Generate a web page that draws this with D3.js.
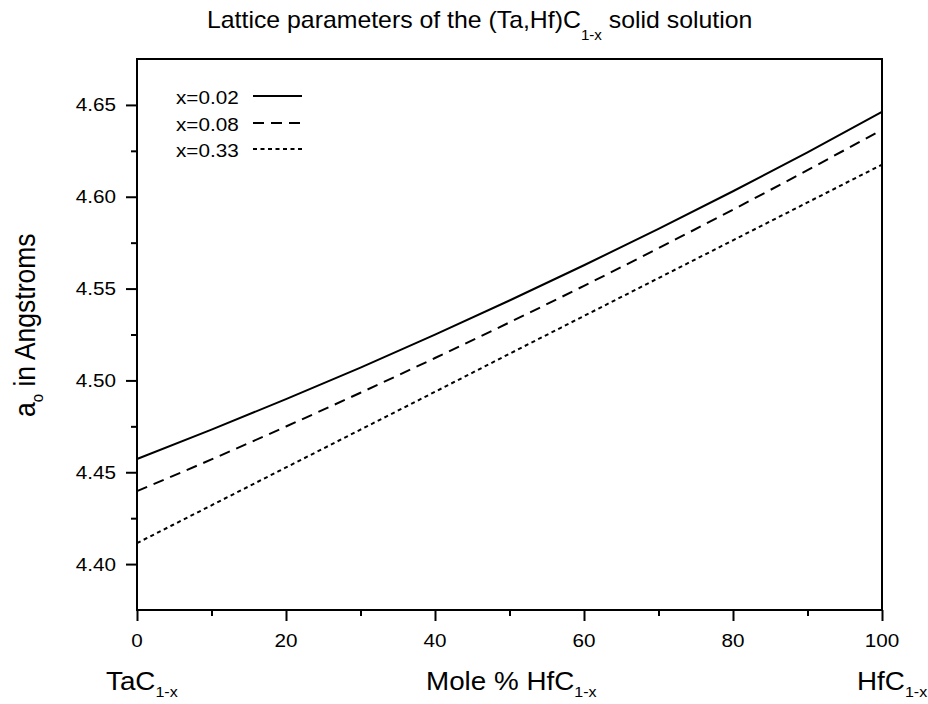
<!DOCTYPE html>
<html>
<head>
<meta charset="utf-8">
<script src="https://cdn.jsdelivr.net/npm/d3@7/dist/d3.min.js"></script>
<style>
  html, body { margin: 0; padding: 0; background: #fff; }
  svg { display: block; }
  text { font-family: "Liberation Sans", Arial, sans-serif; fill: #000; }
</style>
</head>
<body>
<svg id="chart" width="928" height="704"></svg>
<script>
// ---- data ----
const molePct = [0, 10, 20, 30, 40, 50, 60, 70, 80, 90, 100];
const seriesNames = ["x=0.02", "x=0.08", "x=0.33"];
const a002 = [4.4572, 4.4732, 4.4898, 4.5070, 4.5249, 4.5435, 4.5627, 4.5825, 4.6030, 4.6242, 4.6462];
const a008 = [4.4397, 4.4570, 4.4749, 4.4933, 4.5122, 4.5316, 4.5515, 4.5720, 4.5930, 4.6145, 4.6365];
const a033 = [4.4114, 4.4320, 4.4526, 4.4732, 4.4938, 4.5145, 4.5351, 4.5557, 4.5763, 4.5969, 4.6175];
const xTicks = [0, 20, 40, 60, 80, 100];
const xMinorTicks = [10, 30, 50, 70, 90];
const yTicks = [4.40, 4.45, 4.50, 4.55, 4.60, 4.65];
const yMinorTicks = [4.425, 4.475, 4.525, 4.575, 4.625];
const xDomain = [0, 100];
const yDomain = [4.375, 4.675];

// ---- layout ----
const L = 137, R = 882, T = 59, B = 610;
const svg = d3.select("#chart");
const x = d3.scaleLinear().domain(xDomain).range([L, R]);
const y = d3.scaleLinear().domain(yDomain).range([B, T]);

const dashes = [null, "11,7", "4,3.5"];
const seriesData = [a002, a008, a033];

// helper: horizontally stretched text
function stext(g, px, py, sx, size, anchor) {
  return g.append("text")
    .attr("transform", `translate(${px},${py}) scale(${sx},1)`)
    .attr("font-size", size)
    .attr("text-anchor", anchor || "start");
}

// ---- series lines ----
const line = d3.line()
  .x((d, i) => x(molePct[i]))
  .y(d => y(d))
  .curve(d3.curveMonotoneX);

const plot = svg.append("g");
seriesData.forEach((s, k) => {
  plot.append("path")
    .datum(s)
    .attr("d", line)
    .attr("fill", "none")
    .attr("stroke", "#000")
    .attr("stroke-width", 2)
    .attr("stroke-dasharray", dashes[k]);
});

// ---- frame ----
svg.append("rect")
  .attr("x", L).attr("y", T)
  .attr("width", R - L).attr("height", B - T)
  .attr("fill", "none").attr("stroke", "#000").attr("stroke-width", 2);

// ---- axes ----
function styleAxis(g) {
  g.select(".domain").remove();
  g.selectAll(".tick line").attr("stroke", "#000").attr("stroke-width", 2);
  g.selectAll(".tick text").remove();
}
svg.append("g").attr("transform", `translate(${L},0)`)
  .call(d3.axisLeft(y).tickValues(yTicks).tickSize(11).tickFormat(""))
  .call(styleAxis);
svg.append("g").attr("transform", `translate(${L},0)`)
  .call(d3.axisLeft(y).tickValues(yMinorTicks).tickSize(6).tickFormat(""))
  .call(styleAxis);
svg.append("g").attr("transform", `translate(0,${B})`)
  .call(d3.axisBottom(x).tickValues(xTicks).tickSize(11).tickFormat(""))
  .call(styleAxis);
svg.append("g").attr("transform", `translate(0,${B})`)
  .call(d3.axisBottom(x).tickValues(xMinorTicks).tickSize(6).tickFormat(""))
  .call(styleAxis);

// tick labels
const fmtY = d3.format(".2f");
yTicks.forEach(v => {
  stext(svg, 116, y(v) + 6.5, 1.15, 18, "end").text(fmtY(v));
});
xTicks.forEach(v => {
  stext(svg, x(v), 647, 1.15, 18, "middle").text(v);
});

// ---- title ----
const title = stext(svg, 207, 28, 1.08, 23, "start");
title.append("tspan").text("Lattice parameters of the (Ta,Hf)C");
title.append("tspan").attr("font-size", 14).attr("dy", 12).text("1-x");
title.append("tspan").attr("dy", -12).text(" solid solution");

// ---- axis titles ----
function subLabel(px, anchor, main) {
  const t = stext(svg, px, 690, 1.07, 26, anchor);
  t.append("tspan").text(main);
  t.append("tspan").attr("font-size", 15).attr("dy", 7).text("1-x");
  return t;
}
subLabel(106, "start", "TaC");
subLabel(426, "start", "Mole % HfC");
subLabel(857, "start", "HfC");

const yt = svg.append("text")
  .attr("transform", "translate(35,417) scale(1.1,1) rotate(-90)")
  .attr("font-size", 26.5);
yt.append("tspan").text("a");
yt.append("tspan").attr("font-size", 15).attr("dy", 7).text("o");
yt.append("tspan").attr("dy", -7).text(" in Angstroms");

// ---- legend ----
const legendRows = [97, 124, 150];
seriesNames.forEach((name, k) => {
  const cy = legendRows[k];
  stext(svg, 176, cy + 6.5, 1.15, 18, "start").text(name);
  svg.append("line")
    .attr("x1", 253).attr("x2", 302)
    .attr("y1", cy - 1).attr("y2", cy - 1)
    .attr("stroke", "#000").attr("stroke-width", 2)
    .attr("stroke-dasharray", dashes[k]);
});
</script>
</body>
</html>
